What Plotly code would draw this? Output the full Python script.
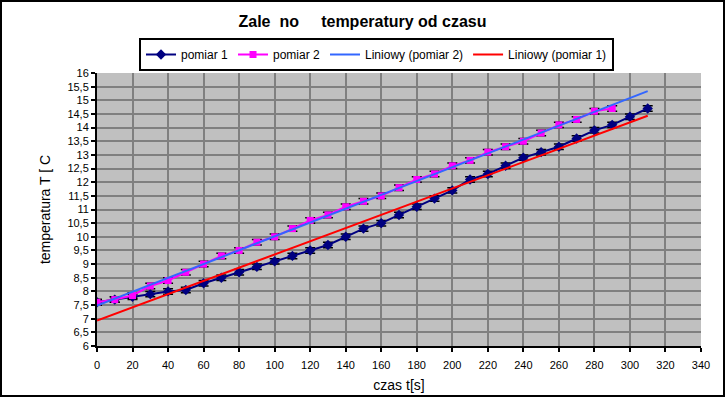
import numpy as np
import plotly.graph_objects as go

# ---- data ----
t1 = [0, 10, 20, 30, 40, 50, 60, 70, 80, 90, 100, 110, 120, 130, 140, 150,
      160, 170, 180, 190, 200, 210, 220, 230, 240, 250, 260, 270, 280, 290, 300, 310]
pomiar1 = [7.6, 7.7, 7.8, 7.9, 8.0, 8.05, 8.3, 8.5, 8.7, 8.9, 9.1, 9.3, 9.5, 9.7,
           10.0, 10.3, 10.5, 10.8, 11.1, 11.4, 11.7, 12.1, 12.3, 12.6, 12.9, 13.1,
           13.3, 13.6, 13.9, 14.1, 14.4, 14.7]
t2 = [0, 10, 20, 30, 40, 50, 60, 70, 80, 90, 100, 110, 120, 130, 140, 150,
      160, 170, 180, 190, 200, 210, 220, 230, 240, 250, 260, 270, 280, 290]
pomiar2 = [7.6, 7.7, 7.85, 8.2, 8.4, 8.7, 9.0, 9.3, 9.5, 9.8, 10.0, 10.3, 10.6,
           10.8, 11.1, 11.3, 11.5, 11.8, 12.1, 12.3, 12.6, 12.8, 13.1, 13.3, 13.5,
           13.8, 14.1, 14.3, 14.6, 14.7]
err = 0.1
trend_range = [0, 310]

title = "Zale  no     temperatury od czasu"
xtitle = "czas t[s]"
ytitle = "temperatura T [ C"

# linear trendlines (least squares)
a1, b1 = np.polyfit(t1, pomiar1, 1)
a2, b2 = np.polyfit(t2, pomiar2, 1)
tr = np.array(trend_range, dtype=float)

fig = go.Figure()
fig.add_trace(go.Scatter(
    x=t1, y=pomiar1, name="pomiar 1", mode="lines+markers",
    line=dict(color="#000080", width=2),
    marker=dict(symbol="diamond", size=8, color="#000080"),
    error_y=dict(type="constant", value=err, color="black", thickness=1.5, width=5),
    legendrank=1))
fig.add_trace(go.Scatter(
    x=t2, y=pomiar2, name="pomiar 2", mode="lines+markers",
    line=dict(color="#FF00FF", width=2),
    marker=dict(symbol="square", size=7, color="#FF00FF"),
    error_y=dict(type="constant", value=err, color="black", thickness=1.5, width=5),
    legendrank=2))
fig.add_trace(go.Scatter(
    x=tr, y=a1 * tr + b1, name="Liniowy (pomiar 1)", mode="lines",
    line=dict(color="#FF0000", width=2), legendrank=4))
fig.add_trace(go.Scatter(
    x=tr, y=a2 * tr + b2, name="Liniowy (pomiar 2)", mode="lines",
    line=dict(color="#3366FF", width=2), legendrank=3))

W, H = 725, 397
L, R, T, B = 97, 24, 73, 51
pw, ph = W - L - R, H - T - B

fig.update_layout(
    width=W, height=H,
    margin=dict(l=L, r=R, t=T, b=B, autoexpand=False),
    paper_bgcolor="white", plot_bgcolor="#C0C0C0",
    separators=",.",
    font=dict(family="Liberation Sans, Arial, sans-serif", color="black", size=11),
    title=dict(text="<b>" + title + "</b>", x=0.5, xanchor="center",
               y=1 - 21 / H, yanchor="middle", yref="container",
               font=dict(size=16)),
    legend=dict(orientation="h", x=(376.5 - L) / pw, xanchor="center",
                y=1 + (T - 38) / ph, yanchor="top",
                bgcolor="white", bordercolor="black", borderwidth=2,
                font=dict(size=12), tracegroupgap=0, itemwidth=30),
    showlegend=True,
    xaxis=dict(range=[0, 340], dtick=20, tick0=0, showgrid=True,
               gridcolor="#808080", gridwidth=2, zeroline=False,
               showline=True, linecolor="black", linewidth=2,
               ticks="outside", ticklen=4, tickcolor="black", tickwidth=1.5,
               ticklabelstandoff=4, automargin=False,
               title=dict(text=xtitle, font=dict(size=14), standoff=10),
               tickfont=dict(size=11)),
    yaxis=dict(range=[6, 16], dtick=0.5, tick0=6, showgrid=True,
               gridcolor="#808080", gridwidth=2, zeroline=False,
               showline=True, linecolor="black", linewidth=2,
               ticks="outside", ticklen=4, tickcolor="black", tickwidth=1.5,
               automargin=False,
               title=dict(text=ytitle, font=dict(size=14), standoff=13),
               tickfont=dict(size=11)),
)

# outer chart border
fig.add_shape(type="rect", xref="paper", yref="paper", layer="above",
              x0=(1 - L) / pw, x1=(W - 1 - L) / pw,
              y0=-(B - 1) / ph, y1=1 + (T - 1) / ph,
              line=dict(color="black", width=2), fillcolor="rgba(0,0,0,0)")

fig.write_html("out.html", config={"displayModeBar": False},
               post_script="document.body.style.margin='0px';document.body.style.overflow='hidden';")
